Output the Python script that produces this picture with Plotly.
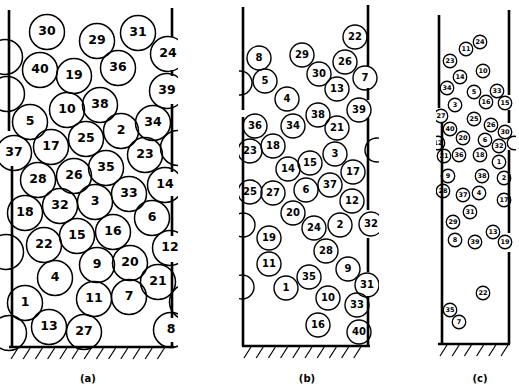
import plotly.graph_objects as go
import numpy as np

# ---------------- data: particle labels and centre positions (image units) ----------------
A_LABELS = ["30", "29", "31", "24", "40", "19", "36", "39", "10", "38", "5", "34", "2", "25",
            "17", "37", "23", "35", "26", "28", "14", "33", "3", "32", "18", "6", "16", "15",
            "22", "12", "9", "20", "4", "21", "1", "11", "7", "13", "27", "8"]
A_X = [47, 97, 138, 168, 40, 74, 118, 167, 67, 100, 30, 153, 121, 86,
       51, 14, 145, 106, 74, 38, 165, 129, 95, 60, 25, 152, 113, 77,
       44, 170, 97, 130, 55, 158, 25, 94, 129, 49, 84, 171]
A_Y = [32, 41, 33, 54, 70, 76, 68, 91, 110, 105, 122, 123, 131, 139,
       147, 153, 155, 168, 176, 180, 185, 194, 202, 206, 213, 218, 232, 236,
       245, 248, 265, 263, 278, 282, 303, 299, 297, 327, 332, 330]
A_PART_X = [5, 7, 178, 6, 9, 187]
A_PART_Y = [57, 94, 148, 252, 333, 302]

B_LABELS = ["22", "8", "29", "26", "30", "7", "5", "13", "4", "39", "38", "34", "36", "21",
            "18", "23", "3", "15", "14", "17", "25", "27", "6", "37", "12", "20", "24", "2",
            "32", "19", "28", "11", "9", "35", "31", "1", "10", "33", "16", "40"]
B_X = [355, 259, 302, 345, 319, 365, 265, 337, 287, 359, 318, 293, 255, 337,
       273, 250, 335, 310, 288, 353, 250, 273, 306, 330, 352, 293, 314, 340,
       371, 269, 326, 269, 348, 309, 367, 286, 328, 357, 318, 359]
B_Y = [37, 58, 55, 62, 74, 78, 81, 89, 99, 110, 115, 126, 126, 128,
       146, 151, 154, 163, 169, 172, 192, 193, 190, 185, 201, 213, 228, 225,
       224, 238, 251, 264, 269, 277, 285, 288, 298, 305, 325, 332]
B_PART_X = [240, 377, 243, 242]
B_PART_Y = [83, 150, 225, 287]

C_LABELS = ["24", "11", "23", "10", "14", "34", "5", "33", "16", "15", "3", "27", "25", "26",
            "30", "40", "20", "6", "32", "12", "21", "36", "18", "1", "9", "38", "2", "28",
            "37", "4", "17", "31", "29", "13", "8", "39", "19", "22", "35", "7"]
C_X = [480, 466, 450, 483, 460, 447, 474, 497, 486, 505, 455, 441, 474, 491,
       505, 450, 463, 485, 499, 438, 444, 459, 480, 499, 448, 482, 504, 443,
       463, 479, 504, 470, 453, 493, 455, 475, 505, 483, 450, 459]
C_Y = [42, 49, 61, 71, 77, 88, 92, 91, 102, 103, 105, 116, 119, 125,
       132, 129, 138, 140, 146, 143, 156, 155, 155, 162, 176, 176, 178, 191,
       195, 193, 200, 212, 222, 232, 240, 242, 242, 293, 310, 322]
C_PART_X = [514]
C_PART_Y = [143]

PANEL_TITLES = ["(a)", "(b)", "(c)"]

# ---------------- drawing geometry ----------------
W, H = 519, 388
PANELS = {
    "a": dict(xr=(0, 178), xa="x", size=35, font=12.5, lw=1.5,
              walls=[(9, 10, 131), (12, 166, 347), (172, 8, 37), (172, 70, 76),
                     (172, 104, 172), (172, 196, 236), (172, 262, 318), (172, 342, 347)],
              floor=(10, 174, 347), title_x=88),
    "b": dict(xr=(239, 379), xa="x2", size=24, font=10, lw=1.4,
              walls=[(243, 7, 110), (243, 117, 346), (368, 5, 66), (368, 88, 100),
                     (368, 118, 210), (368, 238, 272), (368, 296, 346)],
              floor=(243, 370, 346), title_x=307),
    "c": dict(xr=(436, 516), xa="x3", size=13.5, font=6.5, lw=1.3,
              walls=[(439, 15, 108), (442, 122, 344), (509, 10, 95), (509, 110, 123),
                     (509, 150, 233), (509, 252, 344)],
              floor=(439, 510, 344), title_x=480),
}
DATA = {
    "a": (A_LABELS, A_X, A_Y, A_PART_X, A_PART_Y),
    "b": (B_LABELS, B_X, B_Y, B_PART_X, B_PART_Y),
    "c": (C_LABELS, C_X, C_Y, C_PART_X, C_PART_Y),
}

fig = go.Figure()
for (key, p), title in zip(PANELS.items(), PANEL_TITLES):
    labels, xs, ys, px, py = DATA[key]
    xa = p["xa"]
    # walls
    wx, wy = [], []
    for x, y0, y1 in p["walls"]:
        wx += [x, x, None]
        wy += [y0, y1, None]
    fx0, fx1, fy = p["floor"]
    wx += [fx0 - 1, fx1, None]
    wy += [fy, fy, None]
    fig.add_trace(go.Scatter(x=wx, y=wy, mode="lines", xaxis=xa, yaxis="y",
                             line=dict(color="black", width=2.6), hoverinfo="skip",
                             showlegend=False))
    # hatching
    hx, hy = [], []
    for x in np.arange(fx0 + 1, fx1 - 6, 12.2):
        hx += [x, x + 7, None]
        hy += [fy + 12, fy + 1, None]
    fig.add_trace(go.Scatter(x=hx, y=hy, mode="lines", xaxis=xa, yaxis="y",
                             line=dict(color="black", width=1.2), hoverinfo="skip",
                             showlegend=False))
    # partial (cut) particles
    fig.add_trace(go.Scatter(x=px, y=py, mode="markers", xaxis=xa, yaxis="y",
                             marker=dict(symbol="circle-open", size=p["size"], color="black",
                                         line=dict(width=p["lw"], color="black")),
                             hoverinfo="skip", showlegend=False))
    # labelled particles
    fig.add_trace(go.Scatter(x=xs, y=ys, mode="markers+text", text=labels,
                             textposition="middle center", xaxis=xa, yaxis="y",
                             marker=dict(symbol="circle-open", size=p["size"], color="black",
                                         line=dict(width=p["lw"], color="black")),
                             textfont=dict(family="DejaVu Sans", size=p["font"], color="black",
                                           weight="bold"),
                             hoverinfo="skip", showlegend=False))
    # panel caption
    fig.add_trace(go.Scatter(x=[p["title_x"]], y=[379], mode="text", text=[title],
                             xaxis=xa, yaxis="y", textposition="middle center",
                             textfont=dict(family="DejaVu Sans", size=10, color="black",
                                           weight="bold"),
                             hoverinfo="skip", showlegend=False))

ax_common = dict(showgrid=False, zeroline=False, showticklabels=False, ticks="",
                 showline=False, fixedrange=True)
layout_axes = {}
for key, p in PANELS.items():
    name = {"x": "xaxis", "x2": "xaxis2", "x3": "xaxis3"}[p["xa"]]
    layout_axes[name] = dict(range=list(p["xr"]), domain=[p["xr"][0] / W, p["xr"][1] / W],
                             anchor="y", **ax_common)

fig.update_layout(
    width=W, height=H, margin=dict(l=0, r=0, t=0, b=0),
    paper_bgcolor="white", plot_bgcolor="white",
    yaxis=dict(range=[H, 0], domain=[0, 1], anchor="x", **ax_common),
    **layout_axes,
)

fig.write_html("out.html", config={"displayModeBar": False},
               post_script="document.body.style.margin='0';")
